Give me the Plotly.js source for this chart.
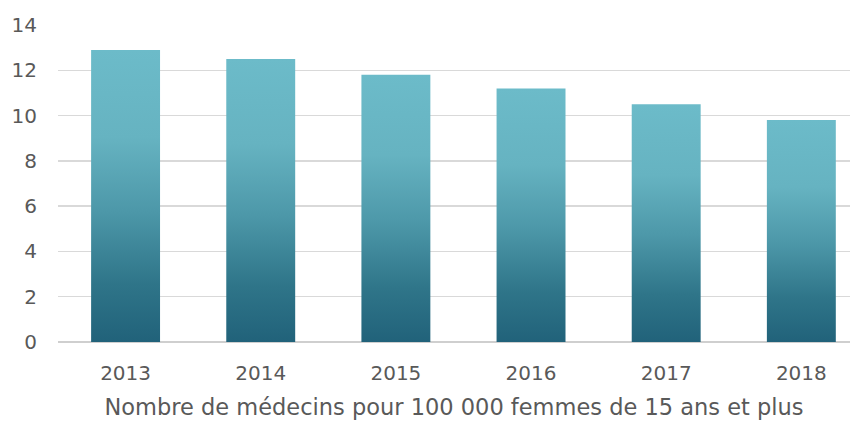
<!DOCTYPE html>
<html>
<head>
<meta charset="utf-8">
<script src="https://cdn.plot.ly/plotly-3.0.1.min.js"></script>
<style>
html,body{margin:0;padding:0;background:#fff;}
#chart{width:859px;height:421px;}
</style>
</head>
<body>
<div id="chart"></div>
<script>
const years = ['2013', '2014', '2015', '2016', '2017', '2018'];
const medecins = [12.9, 12.5, 11.8, 11.2, 10.5, 9.8];
const yTicks = [0, 2, 4, 6, 8, 10, 12, 14];
const xTitle = 'Nombre de médecins pour 100 000 femmes de 15 ans et plus';

const font = {family: '"DejaVu Sans", sans-serif', size: 20, color: '#595959'};
const titleFont = {family: '"DejaVu Sans", sans-serif', size: 22.5, color: '#595959'};

const trace = {
  type: 'bar',
  x: years,
  y: medecins,
  width: 0.51,
  marker: {color: '#4a98a8', line: {width: 0}},
  hoverinfo: 'skip'
};

const layout = {
  width: 859, height: 421,
  margin: {l: 58, r: 9, t: 25, b: 79},
  paper_bgcolor: '#fff', plot_bgcolor: '#fff',
  font: font,
  showlegend: false,
  bargap: 0.49,
  xaxis: {
    type: 'category',
    range: [-0.5, 5.36],
    showgrid: false, zeroline: false, showline: false,
    ticks: '', tickfont: font,
    ticklabelstandoff: 17,
    title: {text: xTitle, font: titleFont, standoff: 15}
  },
  yaxis: {
    range: [0, 14],
    tickvals: yTicks,
    ticktext: yTicks.map(String),
    showgrid: true, gridcolor: '#d9d9d9', gridwidth: 1.5,
    zeroline: true, zerolinecolor: '#cfcfcf', zerolinewidth: 2,
    showline: false, ticks: '', tickfont: font,
    ticklabelstandoff: 20
  }
};

Plotly.newPlot('chart', [trace], layout, {staticPlot: true, displayModeBar: false}).then(function (gd) {
  const svg = gd.querySelector('svg.main-svg');
  const ns = 'http://www.w3.org/2000/svg';
  let defs = svg.querySelector('defs');
  if (!defs) { defs = document.createElementNS(ns, 'defs'); svg.insertBefore(defs, svg.firstChild); }
  const grad = document.createElementNS(ns, 'linearGradient');
  grad.setAttribute('id', 'barGrad');
  grad.setAttribute('x1', '0'); grad.setAttribute('y1', '0');
  grad.setAttribute('x2', '0'); grad.setAttribute('y2', '1');
  [[0, '#6cbbc9'], [0.3, '#66b3c1'], [0.55, '#4d98a9'], [0.8, '#2f7589'], [1, '#21627a']].forEach(function (s) {
    const st = document.createElementNS(ns, 'stop');
    st.setAttribute('offset', s[0]);
    st.setAttribute('stop-color', s[1]);
    grad.appendChild(st);
  });
  defs.appendChild(grad);
  gd.querySelectorAll('.bars .point path').forEach(function (p) {
    p.style.fill = 'url(#barGrad)';
  });
});
</script>
</body>
</html>
